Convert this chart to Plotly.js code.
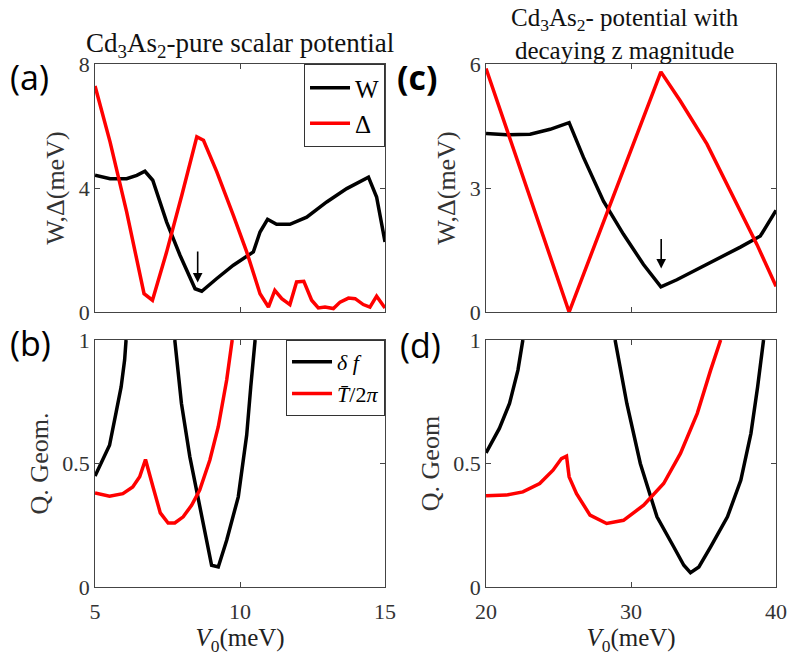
<!DOCTYPE html>
<html>
<head>
<meta charset="utf-8">
<script src="https://cdn.plot.ly/plotly-3.0.1.min.js"></script>
<style>html,body{margin:0;padding:0;background:#fff}</style>
</head>
<body>
<div id="chart" style="width:788px;height:662px"></div>
<script>
// Panel (a): pure scalar potential
const aW_x = [5, 5.52, 6.09, 6.44, 6.72, 6.99, 7.47, 7.93, 8.45, 8.68, 9.2, 9.77, 10.46, 10.69, 10.95, 11.26, 11.72, 12.3, 12.99, 13.68, 14.43, 14.71, 15.0];
const aW_y = [4.41, 4.30, 4.30, 4.41, 4.54, 4.25, 2.90, 1.83, 0.75, 0.67, 1.08, 1.51, 1.94, 2.58, 2.99, 2.83, 2.83, 3.06, 3.55, 3.98, 4.35, 3.71, 2.26];
const aD_x = [5, 5.52, 6.09, 6.69, 6.98, 7.47, 7.99, 8.51, 8.74, 9.2, 9.77, 10.23, 10.69, 10.98, 11.2, 11.44, 11.72, 11.95, 12.2, 12.47, 12.7, 12.93, 13.22, 13.45, 13.74, 13.97, 14.25, 14.48, 14.71, 15];
const aD_y = [7.29, 5.48, 3.23, 0.59, 0.38, 1.94, 3.76, 5.65, 5.54, 4.52, 3.12, 1.94, 0.59, 0.16, 0.70, 0.43, 0.24, 0.97, 0.99, 0.38, 0.13, 0.16, 0.11, 0.32, 0.45, 0.43, 0.24, 0.16, 0.51, 0.13];
// Panel (b)
const bF_x = [5, 5.27, 5.5, 5.73, 5.9, 6.02, 6.07, null, 7.75, 7.98, 8.27, 8.61, 9.02, 9.25, 9.54, 9.94, 10.23, 10.37, 10.52];
const bF_y = [0.449, 0.514, 0.574, 0.709, 0.81, 0.919, 1.0, null, 1.0, 0.743, 0.527, 0.324, 0.088, 0.081, 0.189, 0.365, 0.615, 0.81, 1.0];
const bT_x = [5, 5.5, 5.96, 6.3, 6.54, 6.74, 7.0, 7.25, 7.52, 7.75, 8.04, 8.33, 8.61, 8.96, 9.25, 9.54, 9.73];
const bT_y = [0.381, 0.368, 0.378, 0.405, 0.446, 0.516, 0.405, 0.30, 0.259, 0.259, 0.284, 0.331, 0.392, 0.514, 0.649, 0.838, 1.0];
// Panel (c): decaying z magnitude
const cW_x = [20, 21.43, 23.04, 24.42, 25.73, 26.72, 28.1, 29.48, 30.86, 32.06, 33.16, 35.24, 37.54, 38.92, 40];
const cW_y = [4.32, 4.29, 4.30, 4.42, 4.58, 3.74, 2.68, 1.88, 1.15, 0.61, 0.78, 1.15, 1.57, 1.84, 2.46];
const cD_x = [20, 25.73, 32.06, 33.39, 35.24, 37.08, 38.69, 40];
const cD_y = [5.89, 0.0, 5.81, 5.11, 4.06, 2.77, 1.63, 0.62];
// Panel (d)
const dF_x = [20, 20.92, 21.62, 22.2, 22.54, null, 28.9, 29.71, 30.64, 31.79, 32.95, 33.64, 34.1, 34.68, 35.49, 36.65, 37.57, 38.27, 38.73, 39.14];
const dF_y = [0.543, 0.642, 0.743, 0.878, 1.0, null, 1.0, 0.743, 0.5, 0.284, 0.162, 0.088, 0.058, 0.081, 0.162, 0.284, 0.432, 0.622, 0.81, 1.0];
const dT_x = [20, 21.39, 22.54, 23.7, 24.62, 25.2, 25.55, 25.73, 26.24, 27.17, 28.32, 29.48, 30.87, 32.25, 33.41, 34.57, 35.49, 36.18];
const dT_y = [0.369, 0.372, 0.385, 0.419, 0.473, 0.52, 0.53, 0.446, 0.378, 0.291, 0.257, 0.27, 0.331, 0.419, 0.541, 0.703, 0.878, 1.0];

const xTicksL = [5, 10, 15];
const xTicksR = [20, 30, 40];
const yTicksA = [0, 4, 8];
const yTicksC = [0, 3, 6];
const yTicksQ = [0, 0.5, 1];

const serif = 'Liberation Serif';
const sans = 'Open Sans';
const tickFont = {family: serif, size: 22, color: '#333'};
const lineW = 3.5;

function ln(x, y, xa, ya, color, name, legend, show) {
  return {x: x, y: y, xaxis: xa, yaxis: ya, type: 'scatter', mode: 'lines',
    line: {color: color, width: lineW}, name: name, legend: legend, showlegend: show,
    connectgaps: false, hoverinfo: 'skip'};
}

const traces = [
  ln(aW_x, aW_y, 'x', 'y', '#000', 'W', 'legend', true),
  ln(aD_x, aD_y, 'x', 'y', '#ff0000', 'Δ', 'legend', true),
  ln(bF_x, bF_y, 'x2', 'y2', '#000', '<i>δ f</i>', 'legend2', true),
  ln(bT_x, bT_y, 'x2', 'y2', '#ff0000', '<i>T̄</i>/2<i>π</i>', 'legend2', true),
  ln(cW_x, cW_y, 'x3', 'y3', '#000', 'W', 'legend', false),
  ln(cD_x, cD_y, 'x3', 'y3', '#ff0000', 'Δ', 'legend', false),
  ln(dF_x, dF_y, 'x4', 'y4', '#000', 'δf', 'legend2', false),
  ln(dT_x, dT_y, 'x4', 'y4', '#ff0000', 'T', 'legend2', false)
];

function xax(dom, range, ticks, anchor, labels, title) {
  const o = {domain: dom, range: range, tickvals: ticks, ticktext: ticks.map(String), anchor: anchor,
    showticklabels: labels, ticks: 'inside', ticklen: 5, tickcolor: '#444', mirror: 'ticks',
    showline: true, linecolor: '#444', linewidth: 1, showgrid: false, zeroline: false,
    tickfont: tickFont, fixedrange: true, ticklabelstandoff: 5};
  if (title) o.title = {text: title, font: {family: serif, size: 25, color: '#222'}, standoff: 0};
  return o;
}
function yax(dom, range, ticks, anchor, title) {
  return {domain: dom, range: range, tickvals: ticks, ticktext: ticks.map(String), anchor: anchor,
    ticks: 'inside', ticklen: 5, tickcolor: '#444', mirror: 'ticks',
    showline: true, linecolor: '#444', linewidth: 1, showgrid: false, zeroline: false,
    tickfont: tickFont, fixedrange: true,
    title: {text: title, font: {family: serif, size: 26, color: '#333'}, standoff: 6}};
}

const dL = [0.1206, 0.4886], dR = [0.6168, 0.9848];
const dT = [0.5287, 0.9033], dB = [0.1133, 0.4864];

const layout = {
  width: 788, height: 662,
  margin: {l: 0, r: 0, t: 0, b: 0},
  paper_bgcolor: '#fff', plot_bgcolor: '#fff',
  xaxis: xax(dL, [5, 15], xTicksL, 'y', false),
  yaxis: yax(dT, [0, 8], yTicksA, 'x', 'W,Δ(meV)'),
  xaxis2: xax(dL, [5, 15], xTicksL, 'y2', true, '<i>V</i><sub>0</sub>(meV)'),
  yaxis2: yax(dB, [0, 1], yTicksQ, 'x2', 'Q. Geom.'),
  xaxis3: xax(dR, [20, 40], xTicksR, 'y3', false),
  yaxis3: yax(dT, [0, 6], yTicksC, 'x3', 'W,Δ(meV)'),
  xaxis4: xax(dR, [20, 40], xTicksR, 'y4', true, '<i>V</i><sub>0</sub>(meV)'),
  yaxis4: yax(dB, [0, 1], yTicksQ, 'x4', 'Q. Geom'),
  legend: {x: 0.4886, xanchor: 'right', y: 0.9033, yanchor: 'top', bgcolor: '#fff',
    bordercolor: '#333', borderwidth: 1, font: {family: serif, size: 25, color: '#000'},
    tracegroupgap: 0, itemwidth: 40},
  legend2: {x: 0.4886, xanchor: 'right', y: 0.4864, yanchor: 'top', bgcolor: '#fff',
    bordercolor: '#333', borderwidth: 1, font: {family: serif, size: 22, color: '#000'},
    tracegroupgap: 0, itemwidth: 40},
  annotations: [
    {text: 'Cd<sub>3</sub>As<sub>2</sub>-pure scalar potential', xref: 'paper', yref: 'paper',
     x: 240 / 788, y: 1 - 45 / 662, xanchor: 'center', yanchor: 'middle', showarrow: false,
     font: {family: serif, size: 27, color: '#111'}},
    {text: 'Cd<sub>3</sub>As<sub>2</sub>- potential with<br>decaying z magnitude', xref: 'paper', yref: 'paper',
     x: 625 / 788, y: 1 - 2 / 662, xanchor: 'center', yanchor: 'top', showarrow: false,
     font: {family: serif, size: 25, color: '#111'}},
    {text: '(a)', xref: 'paper', yref: 'paper', x: 8 / 788, y: 1 - 77 / 662, xanchor: 'left', yanchor: 'middle',
     showarrow: false, font: {family: sans, size: 34, color: '#000'}},
    {text: '<b>(c)</b>', xref: 'paper', yref: 'paper', x: 395 / 788, y: 1 - 77 / 662, xanchor: 'left', yanchor: 'middle',
     showarrow: false, font: {family: sans, size: 34, color: '#000'}},
    {text: '(b)', xref: 'paper', yref: 'paper', x: 8 / 788, y: 1 - 343 / 662, xanchor: 'left', yanchor: 'middle',
     showarrow: false, font: {family: sans, size: 34, color: '#000'}},
    {text: '(d)', xref: 'paper', yref: 'paper', x: 398 / 788, y: 1 - 345 / 662, xanchor: 'left', yanchor: 'middle',
     showarrow: false, font: {family: sans, size: 34, color: '#000'}},
    {text: '', xref: 'x', yref: 'y', x: 8.54, y: 0.95, axref: 'x', ayref: 'y', ax: 8.54, ay: 2.0,
     showarrow: true, arrowhead: 2, arrowsize: 1.2, arrowwidth: 1.6, arrowcolor: '#000'},
    {text: '', xref: 'x3', yref: 'y3', x: 32.08, y: 1.05, axref: 'x3', ayref: 'y3', ax: 32.08, ay: 1.8,
     showarrow: true, arrowhead: 2, arrowsize: 1.2, arrowwidth: 1.6, arrowcolor: '#000'}
  ]
};

Plotly.newPlot('chart', traces, layout, {displayModeBar: false, staticPlot: true});
</script>
</body>
</html>
